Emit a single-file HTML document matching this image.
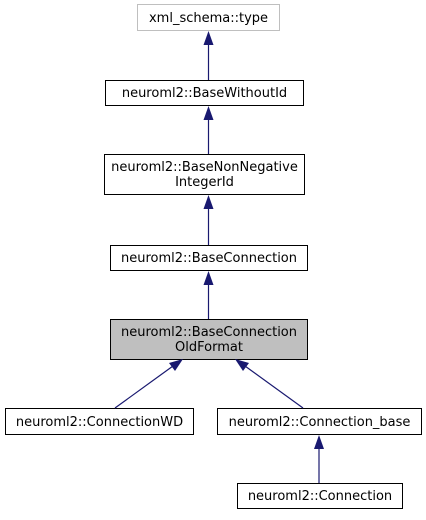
<!DOCTYPE html>
<html><head><meta charset="utf-8"><style>html,body{margin:0;padding:0;background:#fff}</style></head><body>
<svg width="426" height="515" viewBox="0 0 426 515" xmlns="http://www.w3.org/2000/svg" font-family="DejaVu Sans, Liberation Sans, sans-serif" font-size="13" text-anchor="middle">
<g fill="#fff" stroke="#000" stroke-width="1">
<rect x="137.5" y="4.5" width="142" height="26" stroke="#bfbfbf"/>
<rect x="105.5" y="80.5" width="198" height="25"/>
<rect x="104.5" y="154.5" width="200" height="40"/>
<rect x="110.5" y="245.5" width="197" height="25"/>
<rect x="110.5" y="319.5" width="197" height="40" fill="#bfbfbf"/>
<rect x="5.5" y="408.5" width="188" height="26"/>
<rect x="217.5" y="408.5" width="204" height="26"/>
<rect x="237.5" y="483.5" width="165" height="25"/>
</g>
<g stroke="#191970" stroke-width="1.2" fill="none">
<line x1="208.5" y1="80" x2="208.5" y2="44"/>
<line x1="208.5" y1="154" x2="208.5" y2="119"/>
<line x1="208.5" y1="245" x2="208.5" y2="208"/>
<line x1="208.5" y1="319" x2="208.5" y2="284"/>
<line x1="115" y1="408" x2="173" y2="366"/>
<line x1="303" y1="408" x2="245" y2="366"/>
<line x1="319" y1="483" x2="319" y2="448"/>
</g>
<g fill="#191970">
<polygon points="208.5,31 203.5,45 213.5,45"/>
<polygon points="208.5,106 203.5,120 213.5,120"/>
<polygon points="208.5,195 203.5,209 213.5,209"/>
<polygon points="208.5,271 203.5,285 213.5,285"/>
<polygon points="183,359 169,363 175,371"/>
<polygon points="235,359 249,363 243,371"/>
<polygon points="319,435 314,449 324,449"/>
</g>
<g fill="#000">
<text x="208.5" y="22">xml_schema::type</text>
<text x="204.5" y="97">neuroml2::BaseWithoutId</text>
<text x="204.5" y="171">neuroml2::BaseNonNegative</text>
<text x="204.5" y="186">IntegerId</text>
<text x="209" y="262">neuroml2::BaseConnection</text>
<text x="209" y="336">neuroml2::BaseConnection</text>
<text x="209" y="351">OldFormat</text>
<text x="99.5" y="426">neuroml2::ConnectionWD</text>
<text x="319.5" y="426">neuroml2::Connection_base</text>
<text x="320" y="500">neuroml2::Connection</text>
</g>
</svg>
</body></html>
